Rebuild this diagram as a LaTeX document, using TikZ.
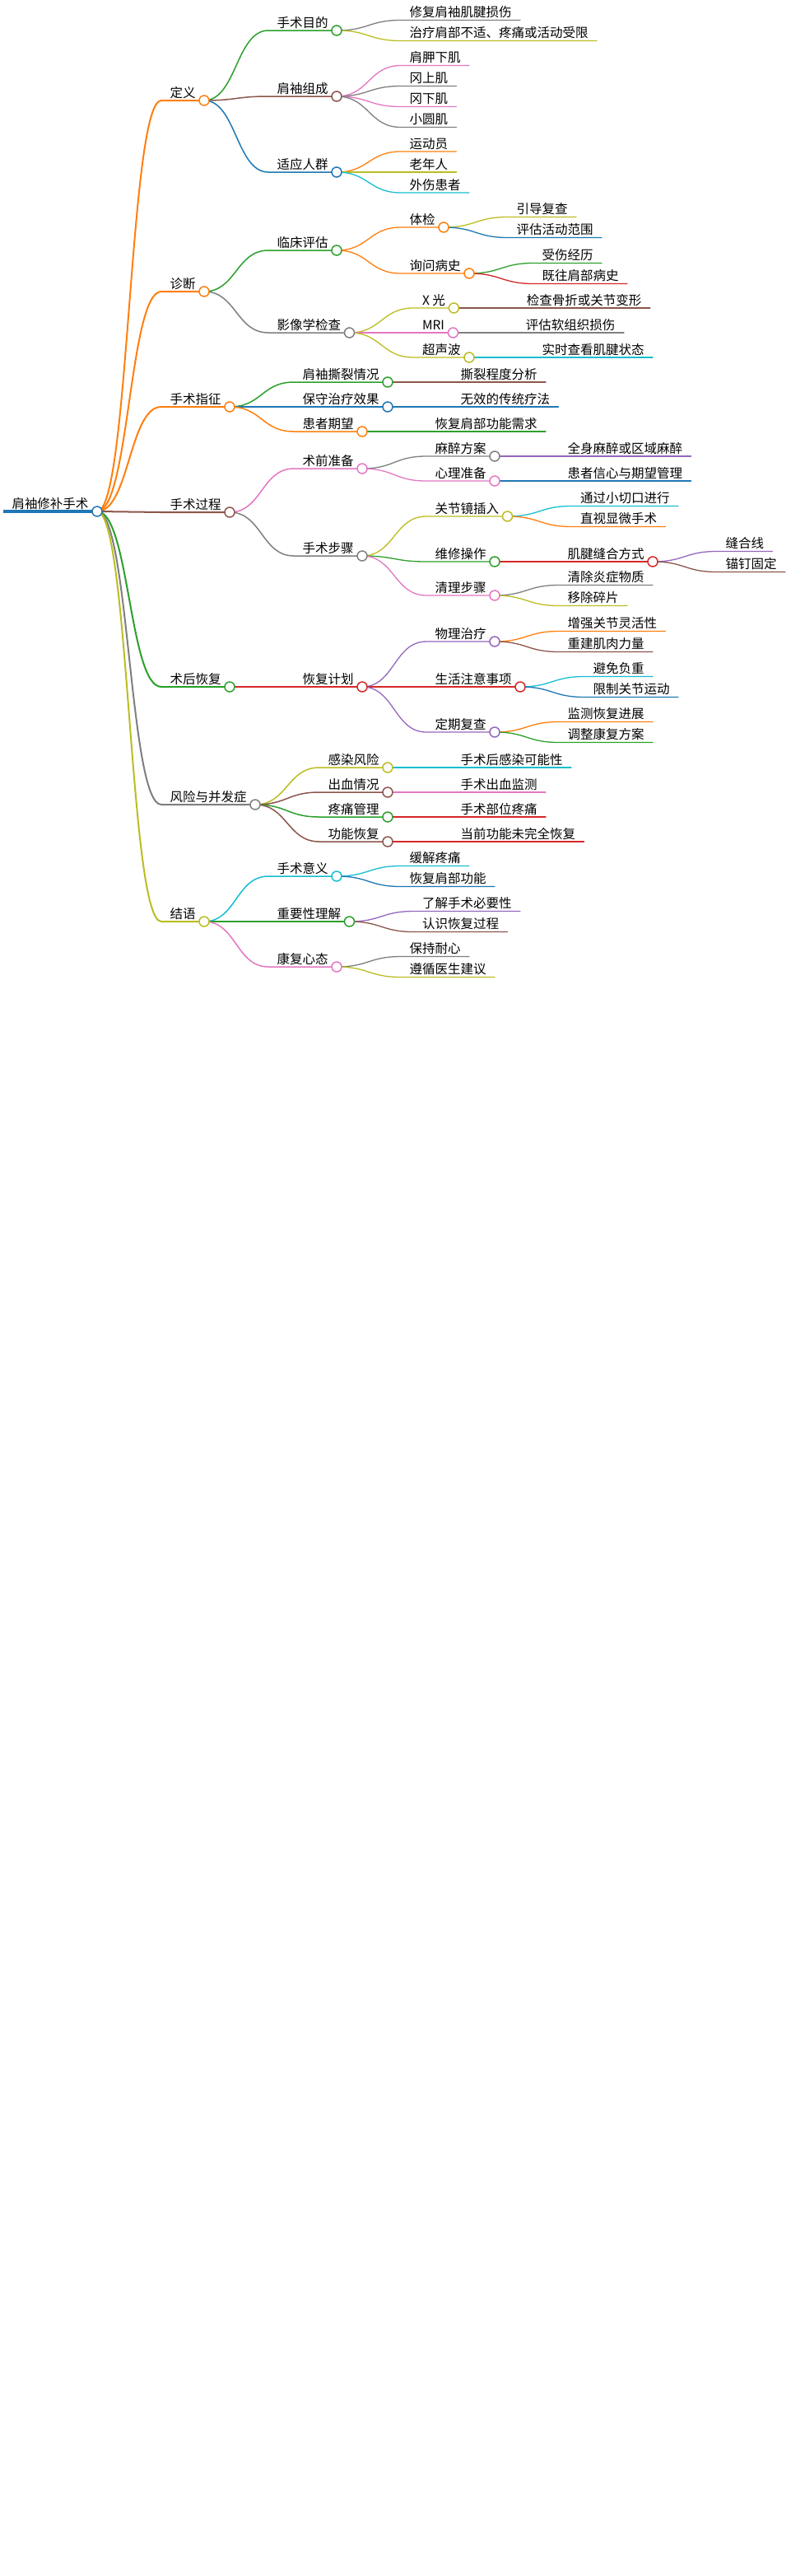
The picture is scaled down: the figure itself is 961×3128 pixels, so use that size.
\documentclass[tikz,border=0pt]{standalone}
\usepackage{fontspec}
\setmainfont{Noto Sans CJK SC}
\usepackage{tikz}
\usetikzlibrary{calc}

\definecolor{mmblue}{HTML}{1F77B4}
\definecolor{mmorange}{HTML}{FF7F0E}
\definecolor{mmgreen}{HTML}{2CA02C}
\definecolor{mmred}{HTML}{D62728}
\definecolor{mmpurple}{HTML}{9467BD}
\definecolor{mmbrown}{HTML}{8C564B}
\definecolor{mmpink}{HTML}{E377C2}
\definecolor{mmgray}{HTML}{7F7F7F}
\definecolor{mmolive}{HTML}{BCBD22}
\definecolor{mmcyan}{HTML}{17BECF}

\begin{document}
\begin{tikzpicture}[x=0.5pt,y=-0.5pt,
    font=\fontsize{7.75pt}{9pt}\selectfont,
    topic/.style={anchor=south west,inner xsep=5.25pt,inner ysep=1.8pt,text depth=0pt,outer sep=0pt},
    wire/.style={line cap=round,to path={.. controls +(39,0) and +(-39,0) .. (\tikztotarget)}},
    w1/.style={wire,line width=1pt},
    w2/.style={wire,line width=0.75pt},
    w3/.style={wire,line width=0.65pt},
    knot/.style={circle,draw=#1,fill=white,line width=0.75pt,minimum size=6pt,inner sep=0pt}]
  \fill[white] (0,0) rectangle (961,3128);
  \useasboundingbox (0,0) rectangle (961,3128);

  % root and main branches
  \node[topic] (root) at (4,621) {肩袖修补手术};
  \node[topic] (def) at ($(root.south east)+(78,-499)$) {定义};
  \node[topic] (diag) at ($(root.south east)+(78,-267)$) {诊断};
  \node[topic] (ind) at ($(root.south east)+(78,-127)$) {手术指征};
  \node[topic] (proc) at ($(root.south east)+(78,1)$) {手术过程};
  \node[topic] (post) at ($(root.south east)+(78,213)$) {术后恢复};
  \node[topic] (risk) at ($(root.south east)+(78,356)$) {风险与并发症};
  \node[topic] (concl) at ($(root.south east)+(78,498)$) {结语};

  % 定义
  \node[topic] (purp) at ($(def.south east)+(78,-85)$) {手术目的};
  \node[topic] (purp1) at ($(purp.south east)+(78,-12.5)$) {修复肩袖肌腱损伤};
  \node[topic] (purp2) at ($(purp.south east)+(78,12.5)$) {治疗肩部不适、疼痛或活动受限};
  \node[topic] (comp) at ($(def.south east)+(78,-5)$) {肩袖组成};
  \node[topic] (comp1) at ($(comp.south east)+(78,-37.5)$) {肩胛下肌};
  \node[topic] (comp2) at ($(comp.south east)+(78,-12.5)$) {冈上肌};
  \node[topic] (comp3) at ($(comp.south east)+(78,12.5)$) {冈下肌};
  \node[topic] (comp4) at ($(comp.south east)+(78,37.5)$) {小圆肌};
  \node[topic] (crowd) at ($(def.south east)+(78,87)$) {适应人群};
  \node[topic] (crowd1) at ($(crowd.south east)+(78,-25)$) {运动员};
  \node[topic] (crowd2) at ($(crowd.south east)+(78,0)$) {老年人};
  \node[topic] (crowd3) at ($(crowd.south east)+(78,25)$) {外伤患者};

  % 诊断
  \node[topic] (clin) at ($(diag.south east)+(78,-50)$) {临床评估};
  \node[topic] (exam) at ($(clin.south east)+(78,-28)$) {体检};
  \node[topic] (exam1) at ($(exam.south east)+(78,-12.5)$) {引导复查};
  \node[topic] (exam2) at ($(exam.south east)+(78,12.5)$) {评估活动范围};
  \node[topic] (hist) at ($(clin.south east)+(78,28)$) {询问病史};
  \node[topic] (hist1) at ($(hist.south east)+(78,-12.5)$) {受伤经历};
  \node[topic] (hist2) at ($(hist.south east)+(78,12.5)$) {既往肩部病史};
  \node[topic] (img) at ($(diag.south east)+(78,50)$) {影像学检查};
  \node[topic] (xray) at ($(img.south east)+(78,-30)$) {X 光};
  \node[topic] (xray1) at ($(xray.south east)+(78,0)$) {检查骨折或关节变形};
  \node[topic] (mri) at ($(img.south east)+(78,0)$) {MRI};
  \node[topic] (mri1) at ($(mri.south east)+(78,0)$) {评估软组织损伤};
  \node[topic] (us) at ($(img.south east)+(78,30)$) {超声波};
  \node[topic] (us1) at ($(us.south east)+(78,0)$) {实时查看肌腱状态};

  % 手术指征
  \node[topic] (tear) at ($(ind.south east)+(78,-30)$) {肩袖撕裂情况};
  \node[topic] (tear1) at ($(tear.south east)+(78,0)$) {撕裂程度分析};
  \node[topic] (cons) at ($(ind.south east)+(78,0)$) {保守治疗效果};
  \node[topic] (cons1) at ($(cons.south east)+(78,0)$) {无效的传统疗法};
  \node[topic] (hope) at ($(ind.south east)+(78,30)$) {患者期望};
  \node[topic] (hope1) at ($(hope.south east)+(78,0)$) {恢复肩部功能需求};

  % 手术过程
  \node[topic] (prep) at ($(proc.south east)+(78,-53)$) {术前准备};
  \node[topic] (anes) at ($(prep.south east)+(78,-15)$) {麻醉方案};
  \node[topic] (anes1) at ($(anes.south east)+(78,0)$) {全身麻醉或区域麻醉};
  \node[topic] (psy) at ($(prep.south east)+(78,15)$) {心理准备};
  \node[topic] (psy1) at ($(psy.south east)+(78,0)$) {患者信心与期望管理};
  \node[topic] (steps) at ($(proc.south east)+(78,53)$) {手术步骤};
  \node[topic] (scope) at ($(steps.south east)+(78,-48)$) {关节镜插入};
  \node[topic] (scope1) at ($(scope.south east)+(78,-12.5)$) {通过小切口进行};
  \node[topic] (scope2) at ($(scope.south east)+(78,12.5)$) {直视显微手术};
  \node[topic] (fix) at ($(steps.south east)+(78,7)$) {维修操作};
  \node[topic] (fix1) at ($(fix.south east)+(78,0)$) {肌腱缝合方式};
  \node[topic] (fix11) at ($(fix1.south east)+(78,-12.5)$) {缝合线};
  \node[topic] (fix12) at ($(fix1.south east)+(78,12.5)$) {锚钉固定};
  \node[topic] (clean) at ($(steps.south east)+(78,48)$) {清理步骤};
  \node[topic] (clean1) at ($(clean.south east)+(78,-12.5)$) {清除炎症物质};
  \node[topic] (clean2) at ($(clean.south east)+(78,12.5)$) {移除碎片};

  % 术后恢复
  \node[topic] (plan) at ($(post.south east)+(78,0)$) {恢复计划};
  \node[topic] (pt) at ($(plan.south east)+(78,-55)$) {物理治疗};
  \node[topic] (pt1) at ($(pt.south east)+(78,-12.5)$) {增强关节灵活性};
  \node[topic] (pt2) at ($(pt.south east)+(78,12.5)$) {重建肌肉力量};
  \node[topic] (life) at ($(plan.south east)+(78,0)$) {生活注意事项};
  \node[topic] (life1) at ($(life.south east)+(78,-12.5)$) {避免负重};
  \node[topic] (life2) at ($(life.south east)+(78,12.5)$) {限制关节运动};
  \node[topic] (check) at ($(plan.south east)+(78,55)$) {定期复查};
  \node[topic] (check1) at ($(check.south east)+(78,-12.5)$) {监测恢复进展};
  \node[topic] (check2) at ($(check.south east)+(78,12.5)$) {调整康复方案};

  % 风险与并发症
  \node[topic] (inf) at ($(risk.south east)+(78,-45)$) {感染风险};
  \node[topic] (inf1) at ($(inf.south east)+(78,0)$) {手术后感染可能性};
  \node[topic] (bleed) at ($(risk.south east)+(78,-15)$) {出血情况};
  \node[topic] (bleed1) at ($(bleed.south east)+(78,0)$) {手术出血监测};
  \node[topic] (pain) at ($(risk.south east)+(78,15)$) {疼痛管理};
  \node[topic] (pain1) at ($(pain.south east)+(78,0)$) {手术部位疼痛};
  \node[topic] (func) at ($(risk.south east)+(78,45)$) {功能恢复};
  \node[topic] (func1) at ($(func.south east)+(78,0)$) {当前功能未完全恢复};

  % 结语
  \node[topic] (mean) at ($(concl.south east)+(78,-55)$) {手术意义};
  \node[topic] (mean1) at ($(mean.south east)+(78,-12.5)$) {缓解疼痛};
  \node[topic] (mean2) at ($(mean.south east)+(78,12.5)$) {恢复肩部功能};
  \node[topic] (know) at ($(concl.south east)+(78,0)$) {重要性理解};
  \node[topic] (know1) at ($(know.south east)+(78,-12.5)$) {了解手术必要性};
  \node[topic] (know2) at ($(know.south east)+(78,12.5)$) {认识恢复过程};
  \node[topic] (mind) at ($(concl.south east)+(78,55)$) {康复心态};
  \node[topic] (mind1) at ($(mind.south east)+(78,-12.5)$) {保持耐心};
  \node[topic] (mind2) at ($(mind.south east)+(78,12.5)$) {遵循医生建议};

  % links with underlines
  \draw[mmblue,line width=1.65pt] (root.south west) -- (root.south east);
  \draw[w1,mmorange] (root.south east) to (def.south west) -- (def.south east);
  \draw[w1,mmorange] (root.south east) to (diag.south west) -- (diag.south east);
  \draw[w1,mmorange] (root.south east) to (ind.south west) -- (ind.south east);
  \draw[w1,mmbrown] (root.south east) to (proc.south west) -- (proc.south east);
  \draw[w1,mmgreen] (root.south east) to (post.south west) -- (post.south east);
  \draw[w1,mmgray] (root.south east) to (risk.south west) -- (risk.south east);
  \draw[w1,mmolive] (root.south east) to (concl.south west) -- (concl.south east);

  \draw[w2,mmgreen] (def.south east) to (purp.south west) -- (purp.south east);
  \draw[w3,mmgray] (purp.south east) to (purp1.south west) -- (purp1.south east);
  \draw[w3,mmolive] (purp.south east) to (purp2.south west) -- (purp2.south east);
  \draw[w2,mmbrown] (def.south east) to (comp.south west) -- (comp.south east);
  \draw[w3,mmpink] (comp.south east) to (comp1.south west) -- (comp1.south east);
  \draw[w3,mmgray] (comp.south east) to (comp2.south west) -- (comp2.south east);
  \draw[w3,mmpink] (comp.south east) to (comp3.south west) -- (comp3.south east);
  \draw[w3,mmgray] (comp.south east) to (comp4.south west) -- (comp4.south east);
  \draw[w2,mmblue] (def.south east) to (crowd.south west) -- (crowd.south east);
  \draw[w3,mmorange] (crowd.south east) to (crowd1.south west) -- (crowd1.south east);
  \draw[w3,mmolive] (crowd.south east) to (crowd2.south west) -- (crowd2.south east);
  \draw[w3,mmcyan] (crowd.south east) to (crowd3.south west) -- (crowd3.south east);

  \draw[w2,mmgreen] (diag.south east) to (clin.south west) -- (clin.south east);
  \draw[w3,mmorange] (clin.south east) to (exam.south west) -- (exam.south east);
  \draw[w3,mmolive] (exam.south east) to (exam1.south west) -- (exam1.south east);
  \draw[w3,mmblue] (exam.south east) to (exam2.south west) -- (exam2.south east);
  \draw[w3,mmorange] (clin.south east) to (hist.south west) -- (hist.south east);
  \draw[w3,mmgreen] (hist.south east) to (hist1.south west) -- (hist1.south east);
  \draw[w3,mmred] (hist.south east) to (hist2.south west) -- (hist2.south east);
  \draw[w2,mmgray] (diag.south east) to (img.south west) -- (img.south east);
  \draw[w3,mmolive] (img.south east) to (xray.south west) -- (xray.south east);
  \draw[w3,mmbrown] (xray.south east) to (xray1.south west) -- (xray1.south east);
  \draw[w3,mmpink] (img.south east) to (mri.south west) -- (mri.south east);
  \draw[w3,mmgray] (mri.south east) to (mri1.south west) -- (mri1.south east);
  \draw[w3,mmolive] (img.south east) to (us.south west) -- (us.south east);
  \draw[w3,mmcyan] (us.south east) to (us1.south west) -- (us1.south east);

  \draw[w2,mmgreen] (ind.south east) to (tear.south west) -- (tear.south east);
  \draw[w3,mmbrown] (tear.south east) to (tear1.south west) -- (tear1.south east);
  \draw[w2,mmblue] (ind.south east) to (cons.south west) -- (cons.south east);
  \draw[w3,mmblue] (cons.south east) to (cons1.south west) -- (cons1.south east);
  \draw[w2,mmorange] (ind.south east) to (hope.south west) -- (hope.south east);
  \draw[w3,mmgreen] (hope.south east) to (hope1.south west) -- (hope1.south east);

  \draw[w2,mmpink] (proc.south east) to (prep.south west) -- (prep.south east);
  \draw[w3,mmgray] (prep.south east) to (anes.south west) -- (anes.south east);
  \draw[w3,mmpurple] (anes.south east) to (anes1.south west) -- (anes1.south east);
  \draw[w3,mmpink] (prep.south east) to (psy.south west) -- (psy.south east);
  \draw[w3,mmblue] (psy.south east) to (psy1.south west) -- (psy1.south east);
  \draw[w2,mmgray] (proc.south east) to (steps.south west) -- (steps.south east);
  \draw[w3,mmolive] (steps.south east) to (scope.south west) -- (scope.south east);
  \draw[w3,mmcyan] (scope.south east) to (scope1.south west) -- (scope1.south east);
  \draw[w3,mmorange] (scope.south east) to (scope2.south west) -- (scope2.south east);
  \draw[w3,mmgreen] (steps.south east) to (fix.south west) -- (fix.south east);
  \draw[w3,mmred] (fix.south east) to (fix1.south west) -- (fix1.south east);
  \draw[w3,mmpurple] (fix1.south east) to (fix11.south west) -- (fix11.south east);
  \draw[w3,mmbrown] (fix1.south east) to (fix12.south west) -- (fix12.south east);
  \draw[w3,mmpink] (steps.south east) to (clean.south west) -- (clean.south east);
  \draw[w3,mmgray] (clean.south east) to (clean1.south west) -- (clean1.south east);
  \draw[w3,mmolive] (clean.south east) to (clean2.south west) -- (clean2.south east);

  \draw[w2,mmred] (post.south east) to (plan.south west) -- (plan.south east);
  \draw[w3,mmpurple] (plan.south east) to (pt.south west) -- (pt.south east);
  \draw[w3,mmorange] (pt.south east) to (pt1.south west) -- (pt1.south east);
  \draw[w3,mmbrown] (pt.south east) to (pt2.south west) -- (pt2.south east);
  \draw[w3,mmred] (plan.south east) to (life.south west) -- (life.south east);
  \draw[w3,mmcyan] (life.south east) to (life1.south west) -- (life1.south east);
  \draw[w3,mmblue] (life.south east) to (life2.south west) -- (life2.south east);
  \draw[w3,mmpurple] (plan.south east) to (check.south west) -- (check.south east);
  \draw[w3,mmorange] (check.south east) to (check1.south west) -- (check1.south east);
  \draw[w3,mmgreen] (check.south east) to (check2.south west) -- (check2.south east);

  \draw[w2,mmolive] (risk.south east) to (inf.south west) -- (inf.south east);
  \draw[w3,mmcyan] (inf.south east) to (inf1.south west) -- (inf1.south east);
  \draw[w2,mmbrown] (risk.south east) to (bleed.south west) -- (bleed.south east);
  \draw[w3,mmpink] (bleed.south east) to (bleed1.south west) -- (bleed1.south east);
  \draw[w2,mmgreen] (risk.south east) to (pain.south west) -- (pain.south east);
  \draw[w3,mmred] (pain.south east) to (pain1.south west) -- (pain1.south east);
  \draw[w2,mmbrown] (risk.south east) to (func.south west) -- (func.south east);
  \draw[w3,mmred] (func.south east) to (func1.south west) -- (func1.south east);

  \draw[w2,mmcyan] (concl.south east) to (mean.south west) -- (mean.south east);
  \draw[w3,mmcyan] (mean.south east) to (mean1.south west) -- (mean1.south east);
  \draw[w3,mmblue] (mean.south east) to (mean2.south west) -- (mean2.south east);
  \draw[w2,mmgreen] (concl.south east) to (know.south west) -- (know.south east);
  \draw[w3,mmpurple] (know.south east) to (know1.south west) -- (know1.south east);
  \draw[w3,mmbrown] (know.south east) to (know2.south west) -- (know2.south east);
  \draw[w2,mmpink] (concl.south east) to (mind.south west) -- (mind.south east);
  \draw[w3,mmgray] (mind.south east) to (mind1.south west) -- (mind1.south east);
  \draw[w3,mmolive] (mind.south east) to (mind2.south west) -- (mind2.south east);

  % knots on top
  \foreach \n/\c in {root/mmblue,def/mmorange,diag/mmorange,ind/mmorange,proc/mmbrown,
      post/mmgreen,risk/mmgray,concl/mmolive,purp/mmgreen,comp/mmbrown,crowd/mmblue,
      clin/mmgreen,exam/mmorange,hist/mmorange,img/mmgray,xray/mmolive,mri/mmpink,us/mmolive,
      tear/mmgreen,cons/mmblue,hope/mmorange,prep/mmpink,anes/mmgray,psy/mmpink,steps/mmgray,
      scope/mmolive,fix/mmgreen,fix1/mmred,clean/mmpink,plan/mmred,pt/mmpurple,life/mmred,
      check/mmpurple,inf/mmolive,bleed/mmbrown,pain/mmgreen,func/mmbrown,mean/mmcyan,
      know/mmgreen,mind/mmpink}
    \node[knot=\c] at (\n.south east) {};
\end{tikzpicture}
\end{document}
